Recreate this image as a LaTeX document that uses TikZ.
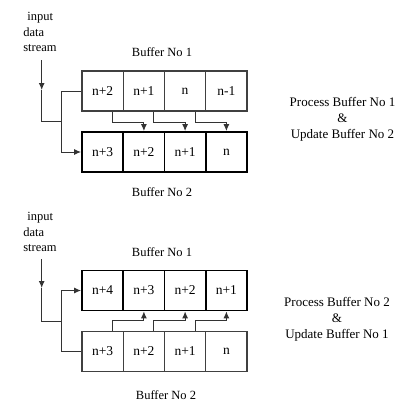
\documentclass[tikz,border=0pt]{standalone}
\usepackage{fontspec}
\setmainfont{Liberation Serif}
\usetikzlibrary{arrows.meta}
\begin{document}
\begin{tikzpicture}[x=1pt,y=-1pt,
  cellthin/.style={draw=black!75,line width=1.2pt,minimum width=41.25pt,minimum height=40pt,inner sep=0pt,font=\fontsize{13.5}{15}\selectfont},
  cellthick/.style={draw=black,line width=1.8pt,minimum width=41.25pt,minimum height=40pt,inner sep=0pt,font=\fontsize{13.5}{15}\selectfont},
  conn/.style={draw=black!80,line width=1pt},
  tip/.style={-{Latex[length=7pt,width=6pt]}},
  lbl/.style={font=\fontsize{12.5}{15}\selectfont,inner sep=0pt},
  side/.style={font=\fontsize{13}{16}\selectfont,align=center,inner sep=0pt},
  instream/.style={font=\fontsize{12.5}{15.5}\selectfont,align=left,inner sep=0pt}]
\useasboundingbox (0,0) rectangle (414,407);
% ---------- Diagram 1 ----------
\node[instream] (in1) at (40,32) {\hspace{4pt}input\\data\\stream};
\node[lbl] (l11) at (162,52) {Buffer No 1};
\node[cellthin] (ta1) at (102.6,91) {n+2};
\node[cellthin] (ta2) at (143.9,91) {n+1};
\node[cellthin] (ta3) at (185.1,91) {n};
\node[cellthin] (ta4) at (226.4,91) {n-1};
\node[cellthick] (ba1) at (102.6,152) {n+3};
\node[cellthick] (ba2) at (143.9,152) {n+2};
\node[cellthick] (ba3) at (185.1,152) {n+1};
\node[cellthick] (ba4) at (226.4,152) {n};
\node[lbl] (l12) at (162,192) {Buffer No 2};
\node[side] (sd1) at (342.5,119.5) {Process Buffer No 1\\\&\\Update Buffer No 2};
\coordinate (s1) at (41.7,60);
\coordinate (m1) at (41.7,90);
\coordinate (k1) at (41.7,121);
\coordinate (j1) at (62,121);
\draw[conn,tip] (s1) -- (m1);
\draw[conn] (m1) -- (k1) -- (j1);
\draw[conn,tip] (ta1.west) -- ++(-20,0) |- (ba1.west);
\draw[conn,tip] ([xshift=10pt]ta1.south) -- ++(0,11) -| (ba2.north);
\draw[conn,tip] ([xshift=10pt]ta2.south) -- ++(0,11) -| (ba3.north);
\draw[conn,tip] ([xshift=10pt]ta3.south) -- ++(0,11) -| (ba4.north);
% ---------- Diagram 2 ----------
\node[instream] (in2) at (40,232) {\hspace{4pt}input\\data\\stream};
\node[lbl] (l21) at (162,252) {Buffer No 1};
\node[cellthick] (tb1) at (102.6,290.5) {n+4};
\node[cellthick] (tb2) at (143.9,290.5) {n+3};
\node[cellthick] (tb3) at (185.1,290.5) {n+2};
\node[cellthick] (tb4) at (226.4,290.5) {n+1};
\node[cellthin] (bb1) at (102.6,351.5) {n+3};
\node[cellthin] (bb2) at (143.9,351.5) {n+2};
\node[cellthin] (bb3) at (185.1,351.5) {n+1};
\node[cellthin] (bb4) at (226.4,351.5) {n};
\node[lbl] (l22) at (166,395) {Buffer No 2};
\node[side] (sd2) at (337,319) {Process Buffer No 2\\\&\\Update Buffer No 1};
\coordinate (s2) at (41.7,259);
\coordinate (m2) at (41.7,288);
\coordinate (k2) at (41.7,321);
\coordinate (j2) at (62,321);
\draw[conn,tip] (s2) -- (m2);
\draw[conn] (m2) -- (k2) -- (j2);
\draw[conn,tip] (bb1.west) -- ++(-20,0) |- (tb1.west);
\draw[conn,tip] ([xshift=10pt]bb1.north) -- ++(0,-10) -| (tb2.south);
\draw[conn,tip] ([xshift=10pt]bb2.north) -- ++(0,-10) -| (tb3.south);
\draw[conn,tip] ([xshift=10pt]bb3.north) -- ++(0,-10) -| (tb4.south);
\end{tikzpicture}
\end{document}
